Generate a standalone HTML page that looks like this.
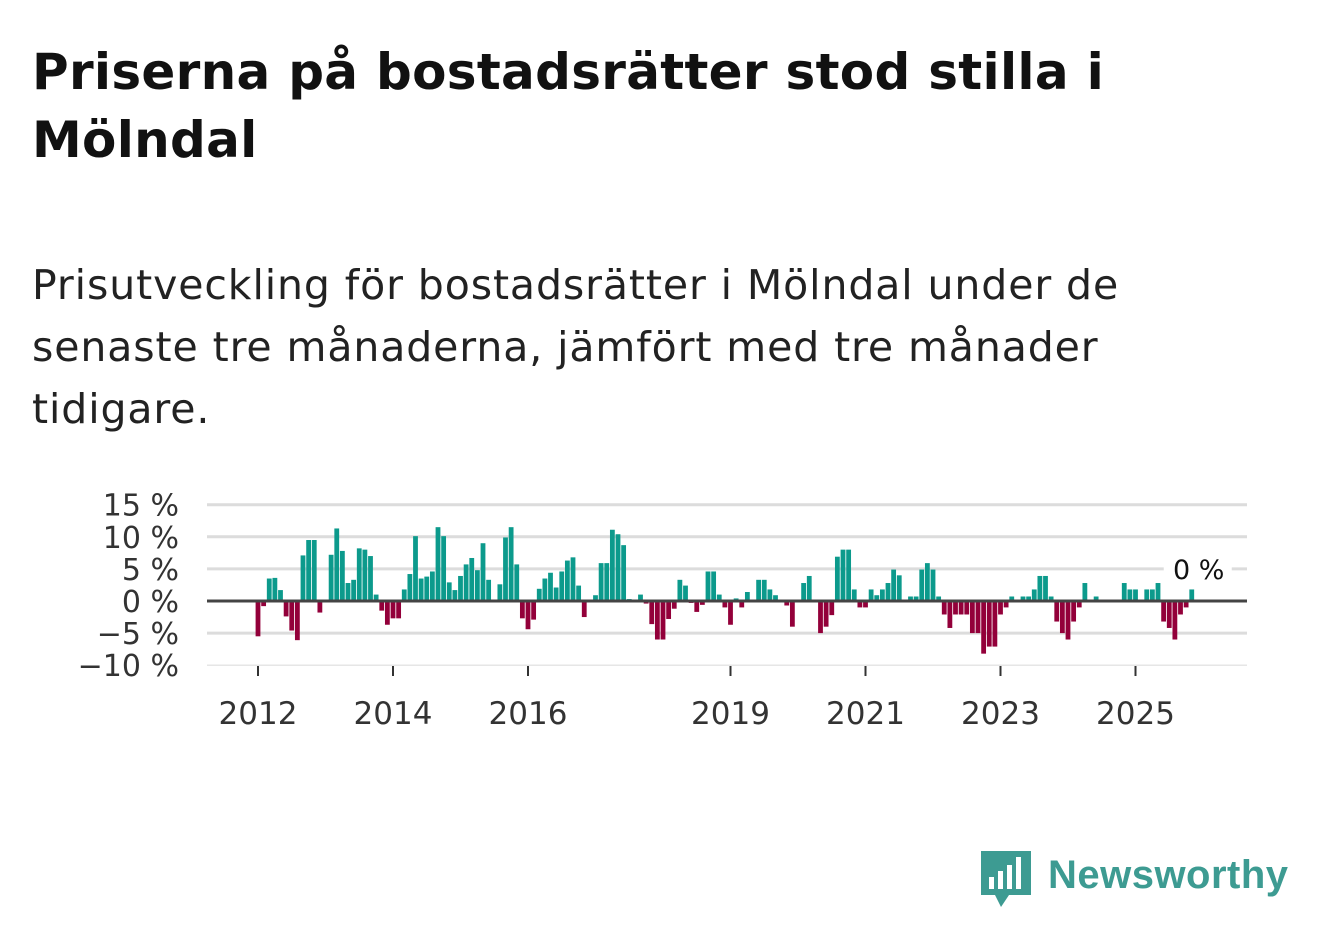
<!DOCTYPE html>
<html><head><meta charset="utf-8">
<style>
body{margin:0;background:#fff;width:1322px;height:939px;overflow:hidden;font-family:"DejaVu Sans",sans-serif;color:#111}
h1{position:absolute;left:32px;top:38px;margin:0;font-size:50px;line-height:68px;font-weight:bold;width:1280px;white-space:nowrap;letter-spacing:0.3px}
p{position:absolute;left:32px;top:254px;margin:0;font-size:41px;line-height:62px;width:1280px;color:#222;white-space:nowrap;letter-spacing:0.9px}
</style></head><body>
<h1>Priserna på bostadsrätter stod stilla i<br>Mölndal</h1>
<p>Prisutveckling för bostadsrätter i Mölndal under de<br>senaste tre månaderna, jämfört med tre månader<br>tidigare.</p>
<svg id="chart" width="1322" height="939" style="position:absolute;left:0;top:0"></svg>
<script>
const values=[-5.5,-0.8,3.5,3.6,1.7,-2.4,-4.6,-6.1,7.1,9.5,9.5,-1.8,0.2,7.2,11.3,7.8,2.8,3.3,8.2,8.0,7.0,1,-1.5,-3.7,
-2.7,-2.7,1.8,4.2,10.1,3.5,3.8,4.6,11.5,10.1,2.9,1.7,3.9,5.7,6.7,4.8,9,3.3,0,2.6,9.9,11.5,5.7,-2.7,
-4.4,-2.9,1.9,3.5,4.4,2.1,4.6,6.3,6.8,2.4,-2.5,0,0.9,5.9,5.9,11.1,10.4,8.7,0.3,0,1,-0.4,-3.6,-6,
-6,-2.8,-1.2,3.3,2.4,-0.3,-1.7,-0.6,4.6,4.6,1,-1,-3.7,0.4,-1,1.4,0.2,3.3,3.3,1.8,0.9,0,-0.7,-4,
0,2.8,3.9,0,-5,-4,-2.2,6.9,8.0,8.0,1.8,-1,-1,1.8,0.9,1.8,2.8,4.9,4.0,0,0.7,0.7,4.9,5.9,
4.9,0.7,-2.1,-4.2,-2.1,-2.1,-2.1,-5,-5,-8.2,-7.1,-7.1,-2.1,-1,0.7,0,0.7,0.7,1.8,3.9,3.9,0.7,-3.2,-5,
-6,-3.2,-1,2.8,0,0.7,0,0,0,0,2.8,1.8,1.8,0,1.8,1.8,2.8,-3.2,-4.2,-6,-2.1,-1,1.8];
const yTicks=[15,10,5,0,-5,-10];
const yTickLabels=["15 %","10 %","5 %","0 %","\u22125 %","\u221210 %"];
const xTickIdx=[0,24,48,84,108,132,156];
const xTickLabels=["2012","2014","2016","2019","2021","2023","2025"];
const NS="http://www.w3.org/2000/svg";
const svg=document.getElementById('chart');
const y=v=>601-v*6.42;
const x=i=>258+i*5.625;
function mk(t,a){const e=document.createElementNS(NS,t);for(const k in a)e.setAttribute(k,a[k]);svg.appendChild(e);return e;}
yTicks.forEach((t,k)=>{
  if(t!==0){const g=mk('line',{x1:207,x2:1247,y1:y(t),y2:y(t),stroke:t===-10?'#e6e6e6':'#dcdcdc','stroke-width':t===-10?1.5:3});
  
  }
  const l=mk('text',{x:179,y:y(t)+11,'text-anchor':'end','font-size':30,fill:'#333','font-family':'DejaVu Sans, sans-serif'});
  l.textContent=yTickLabels[k];
  
  
});
values.forEach((v,i)=>{
  if(v===0)return;
  const b=mk('rect',{x:x(i)-2.4,width:4.8,y:Math.min(y(v),y(0)),height:Math.abs(y(v)-y(0)),fill:v>0?'#0c9a8c':'#93003a'});
  
  
});
const z=mk('line',{x1:207,x2:1247,y1:y(0),y2:y(0),stroke:'#444','stroke-width':3});


xTickIdx.forEach((ix,k)=>{
  const t=mk('line',{x1:x(ix),x2:x(ix),y1:666,y2:676,stroke:'#333','stroke-width':2});
  
  
  const l=mk('text',{x:x(ix),y:724,'text-anchor':'middle','font-size':31,fill:'#333','font-family':'DejaVu Sans, sans-serif'});
  l.textContent=xTickLabels[k];
  
  
});
const last=values.length-1;
const bg=mk('rect',{x:x(last)-28,y:553,width:68,height:32,fill:'#fff'});


const lv=mk('text',{x:x(last)+7,y:579,'text-anchor':'middle','font-size':27,fill:'#111','font-family':'DejaVu Sans, sans-serif'});
lv.textContent="0 %";


</script>
<svg width="320" height="70" style="position:absolute;left:975px;top:845px">
<path d="M6 6h50v44H34l-8 12-6-12H6z" fill="#3d9b92"/>
<rect x="14" y="32" width="5" height="12" fill="#fff"/><rect x="23" y="26" width="5" height="18" fill="#fff"/><rect x="32" y="20" width="5" height="24" fill="#fff"/><rect x="41" y="12" width="5" height="32" fill="#fff"/>
<text x="73" y="43" font-size="40" font-weight="bold" fill="#3d9b92" font-family="Liberation Sans, sans-serif" textLength="240">Newsworthy</text>
</svg>
</body></html>
